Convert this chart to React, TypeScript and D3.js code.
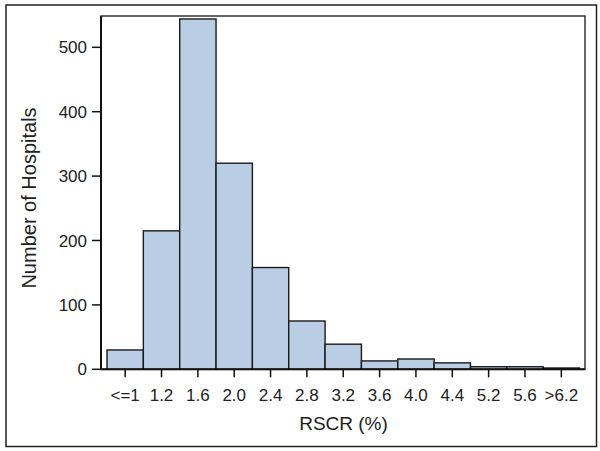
import React from "react";
import * as d3 from "d3";

const categories = ["<=1", "1.2", "1.6", "2.0", "2.4", "2.8", "3.2", "3.6", "4.0", "4.4", "5.2", "5.6", ">6.2"];
const counts = [30, 215, 544, 320, 158, 75, 39, 13, 16, 10, 4, 4, 2];
const yTicks = [0, 100, 200, 300, 400, 500];

const W = 600;
const H = 451;
const plotLeft = 101;
const plotRight = 585;
const plotTop = 16;
const plotBottom = 369.3;

export default function App() {
  const x = d3.scaleBand<string>().domain(categories).range([107, 579.5]).padding(0);
  const y = d3.scaleLinear().domain([0, 550]).range([plotBottom, plotBottom - 550 * 0.644]);
  const font = "Liberation Sans, Arial, sans-serif";
  return (
    <svg width={W} height={H} style={{ position: "absolute", left: 0, top: 0, background: "#fff" }}>
      <rect x={6} y={5} width={590.5} height={441.5} fill="#fff" stroke="#222" strokeWidth={1.5} />
      <rect x={plotLeft} y={plotTop} width={plotRight - plotLeft} height={plotBottom - plotTop} fill="none" stroke="#333" strokeWidth={1.5} />
      {counts.map((c, i) => (
        <rect
          key={i}
          x={x(categories[i])}
          y={y(c)}
          width={x.bandwidth()}
          height={plotBottom - y(c)}
          fill="#b9cde5"
          stroke="#1a1a1a"
          strokeWidth={1.4}
        />
      ))}
      <line x1={plotLeft} x2={plotLeft} y1={plotTop} y2={plotBottom} stroke="#111" strokeWidth={2} />
      <line x1={plotLeft} x2={plotRight} y1={plotBottom} y2={plotBottom} stroke="#111" strokeWidth={2} />
      {yTicks.map((t) => (
        <g key={t}>
          <line x1={92} x2={plotLeft} y1={y(t)} y2={y(t)} stroke="#111" strokeWidth={1.5} />
          <text x={87} y={y(t)} dy="0.36em" textAnchor="end" fontFamily={font} fontSize={17} fill="#222">
            {t}
          </text>
        </g>
      ))}
      {categories.map((c) => {
        const cx = (x(c) as number) + x.bandwidth() / 2;
        return (
          <g key={c}>
            <line x1={cx} x2={cx} y1={plotBottom} y2={plotBottom + 8} stroke="#111" strokeWidth={1.5} />
            <text x={cx} y={400.5} textAnchor="middle" fontFamily={font} fontSize={17} fill="#222">
              {c}
            </text>
          </g>
        );
      })}
      <text x={343.5} y={430} textAnchor="middle" fontFamily={font} fontSize={19} fill="#222">
        RSCR (%)
      </text>
      <text
        transform={`translate(35.5, 198) rotate(-90)`}
        textAnchor="middle"
        fontFamily={font}
        fontSize={20}
        fill="#222"
      >
        Number of Hospitals
      </text>
    </svg>
  );
}
